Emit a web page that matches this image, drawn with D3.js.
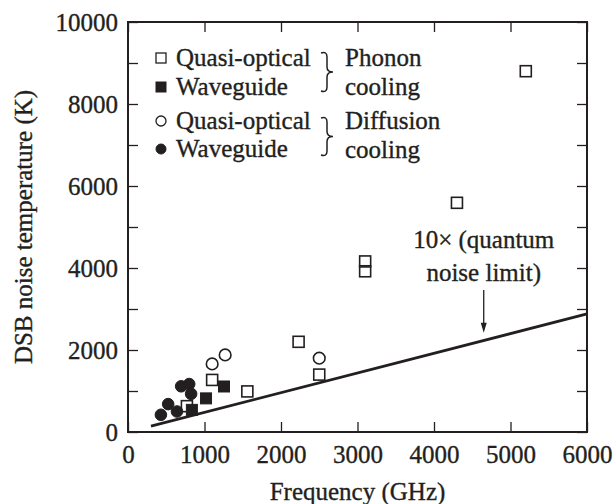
<!DOCTYPE html>
<html>
<head>
<meta charset="utf-8">
<script src="https://cdn.jsdelivr.net/npm/d3@7/dist/d3.min.js"></script>
<style>
  html, body { margin: 0; padding: 0; background: #fff; }
  svg { display: block; }
</style>
</head>
<body>
<script>
// Phonon-cooled HEB mixers
const phononQuasiFreq = [770, 1100, 1560, 2230, 2500, 3100, 3100, 4300, 5200];
const phononQuasiTemp = [630, 1270, 990, 2200, 1400, 4160, 3920, 5590, 8800];
const phononWaveFreq = [835, 1020, 1255];
const phononWaveTemp = [540, 820, 1110];
// Diffusion-cooled HEB mixers
const diffQuasiFreq = [1100, 1270, 2500];
const diffQuasiTemp = [1660, 1880, 1800];
const diffWaveFreq = [430, 525, 640, 695, 800, 825];
const diffWaveTemp = [420, 680, 500, 1115, 1170, 930];
// 10 × quantum noise limit (10·hf/k)
const limitFreq = [300, 6000];
const limitTemp = [144, 2880];

const xTicks = [0, 1000, 2000, 3000, 4000, 5000, 6000];
const yTicks = [0, 2000, 4000, 6000, 8000, 10000];
const yMinorTicks = [1000, 3000, 5000, 7000, 9000];

const W = 614, H = 504;
const m = { left: 128, right: 27, top: 22, bottom: 72 };
const ink = "#231f20";
const FONT = "'Liberation Serif', 'DejaVu Serif', serif";

const svg = d3.select("body").append("svg").attr("width", W).attr("height", H)
  .attr("font-family", FONT);

const x = d3.scaleLinear().domain([0, 6000]).range([m.left, W - m.right]);
const y = d3.scaleLinear().domain([0, 10000]).range([H - m.bottom, m.top]);

const fs = 25;
const tickLen = 10;

// slightly heavier glyphs for all labels
function ink_text(sel) {
  return sel.attr("fill", ink).attr("stroke", ink).attr("stroke-width", 0.35);
}

// Axes with inward ticks on all four sides
const allY = yTicks.concat(yMinorTicks);
const gx = svg.append("g").attr("transform", `translate(0,${y(0)})`)
  .call(d3.axisBottom(x).tickValues(xTicks).tickFormat(d3.format("d")).tickSizeInner(-tickLen).tickSizeOuter(0).tickPadding(13));
const gxTop = svg.append("g").attr("transform", `translate(0,${y(10000)})`)
  .call(d3.axisTop(x).tickValues(xTicks).tickFormat("").tickSizeInner(-tickLen).tickSizeOuter(0));
const gy = svg.append("g").attr("transform", `translate(${x(0)},0)`)
  .call(d3.axisLeft(y).tickValues(allY).tickFormat(d => yTicks.includes(d) ? d3.format("d")(d) : "").tickSizeInner(-tickLen).tickSizeOuter(0).tickPadding(10));
const gyRight = svg.append("g").attr("transform", `translate(${x(6000)},0)`)
  .call(d3.axisRight(y).tickValues(allY).tickFormat("").tickSizeInner(-tickLen).tickSizeOuter(0));

[gx, gxTop, gy, gyRight].forEach(g => {
  g.attr("font-family", FONT).attr("font-size", fs);
  g.selectAll(".domain").remove();
  g.selectAll(".tick line").attr("stroke", ink).attr("stroke-width", 1.3);
  ink_text(g.selectAll(".tick text"));
});

// Frame
svg.append("rect")
  .attr("x", x(0)).attr("y", y(10000))
  .attr("width", x(6000) - x(0)).attr("height", y(0) - y(10000))
  .attr("fill", "none").attr("stroke", ink).attr("stroke-width", 2);

// Axis titles
ink_text(svg.append("text")
  .attr("x", (x(0) + x(6000)) / 2).attr("y", 500)
  .attr("text-anchor", "middle").attr("font-size", fs))
  .text("Frequency (GHz)");
ink_text(svg.append("text")
  .attr("transform", `translate(32,${(y(0) + y(10000)) / 2}) rotate(-90)`)
  .attr("text-anchor", "middle").attr("font-size", fs))
  .text("DSB noise temperature (K)");

// Quantum limit line
const line = d3.line().x(d => x(d[0])).y(d => y(d[1]));
svg.append("path")
  .datum(d3.zip(limitFreq, limitTemp))
  .attr("d", line)
  .attr("fill", "none").attr("stroke", ink).attr("stroke-width", 2.8);

// Markers
const sq = 11, r = 5.8;
function squares(fx, ty, filled) {
  svg.append("g").selectAll("rect").data(d3.zip(fx, ty)).join("rect")
    .attr("x", d => x(d[0]) - sq / 2).attr("y", d => y(d[1]) - sq / 2)
    .attr("width", sq).attr("height", sq)
    .attr("fill", filled ? ink : "none")
    .attr("stroke", ink).attr("stroke-width", filled ? 1 : 1.6);
}
function circles(fx, ty, filled) {
  svg.append("g").selectAll("circle").data(d3.zip(fx, ty)).join("circle")
    .attr("cx", d => x(d[0])).attr("cy", d => y(d[1])).attr("r", r)
    .attr("fill", filled ? ink : "#fff")
    .attr("stroke", ink).attr("stroke-width", filled ? 1 : 1.6);
}
squares(phononQuasiFreq, phononQuasiTemp, false);
circles(diffQuasiFreq, diffQuasiTemp, false);
circles(diffWaveFreq, diffWaveTemp, true);
squares(phononWaveFreq, phononWaveTemp, true);

// Annotation with arrow
const annF = 4650;
ink_text(svg.append("text").attr("x", x(annF)).attr("y", 248).attr("text-anchor", "middle")
  .attr("font-size", fs)).text("10× (quantum");
ink_text(svg.append("text").attr("x", x(annF)).attr("y", 281).attr("text-anchor", "middle")
  .attr("font-size", fs)).text("noise limit)");
const arrowTop = 290, arrowTip = y(2420);
svg.append("line").attr("x1", x(annF)).attr("x2", x(annF))
  .attr("y1", arrowTop).attr("y2", arrowTip - 6)
  .attr("stroke", ink).attr("stroke-width", 1.3);
svg.append("path")
  .attr("d", `M${x(annF) - 3},${arrowTip - 10} L${x(annF)},${arrowTip} L${x(annF) + 3},${arrowTip - 10} Z`)
  .attr("fill", ink);

// Legend
const legendRows = [
  { label: "Quasi-optical", shape: "square", filled: false, y: 58 },
  { label: "Waveguide", shape: "square", filled: true, y: 87 },
  { label: "Quasi-optical", shape: "circle", filled: false, y: 121 },
  { label: "Waveguide", shape: "circle", filled: true, y: 149 }
];
const lg = svg.append("g");
legendRows.forEach(d => {
  if (d.shape === "square") {
    const s = 10;
    lg.append("rect").attr("x", 161 - s / 2).attr("y", d.y - s / 2).attr("width", s).attr("height", s)
      .attr("fill", d.filled ? ink : "none").attr("stroke", ink).attr("stroke-width", d.filled ? 1 : 1.3);
  } else {
    lg.append("circle").attr("cx", 161).attr("cy", d.y).attr("r", 5)
      .attr("fill", d.filled ? ink : "none").attr("stroke", ink).attr("stroke-width", d.filled ? 1 : 1.3);
  }
  ink_text(lg.append("text").attr("x", 176).attr("y", d.y + 8).attr("font-size", fs)).text(d.label);
});

function brace(x0, y1, y2) {
  const w = 12, ym = (y1 + y2) / 2, xm = x0 + w * 0.5, r = 5;
  return `M${x0},${y1 + 1} Q${xm},${y1 - 1} ${xm},${y1 + r}` +
    ` L${xm},${ym - r} Q${xm},${ym} ${x0 + w},${ym}` +
    ` Q${xm},${ym} ${xm},${ym + r} L${xm},${y2 - r} Q${xm},${y2 + 1} ${x0},${y2 - 1}`;
}
[[52, 92, "Phonon", 66, 95], [117, 156, "Diffusion", 129, 158]].forEach(([a, b, t1, b1, b2]) => {
  lg.append("path").attr("d", brace(321, a, b)).attr("fill", "none").attr("stroke", ink).attr("stroke-width", 1.5);
  ink_text(lg.append("text").attr("x", 345).attr("y", b1).attr("font-size", fs)).text(t1);
  ink_text(lg.append("text").attr("x", 345).attr("y", b2).attr("font-size", fs)).text("cooling");
});
</script>
</body>
</html>
